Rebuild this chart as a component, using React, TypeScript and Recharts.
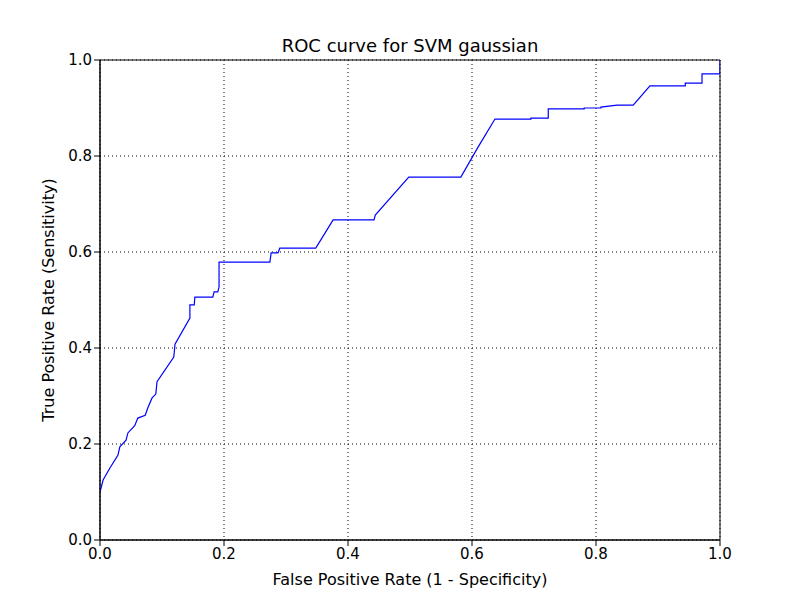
import { LineChart, Line, XAxis, YAxis, CartesianGrid, ReferenceArea, Label } from "recharts";

const fpr = [0, 0.005, 0.016, 0.029, 0.032, 0.042, 0.045, 0.056, 0.061, 0.073, 0.077, 0.084, 0.09, 0.092, 0.119, 0.121, 0.145, 0.145, 0.152, 0.153, 0.182, 0.184, 0.19, 0.192, 0.192, 0.274, 0.276, 0.287, 0.29, 0.348, 0.376, 0.442, 0.444, 0.498, 0.582, 0.61, 0.637, 0.695, 0.695, 0.723, 0.723, 0.781, 0.781, 0.808, 0.808, 0.834, 0.86, 0.887, 0.944, 0.944, 0.971, 0.971, 1.0, 1.0];
const tpr = [0.1, 0.125, 0.15, 0.177, 0.194, 0.208, 0.223, 0.238, 0.254, 0.26, 0.275, 0.296, 0.304, 0.33, 0.381, 0.408, 0.4625, 0.49, 0.49, 0.506, 0.506, 0.517, 0.517, 0.527, 0.579, 0.579, 0.598, 0.598, 0.608, 0.608, 0.667, 0.667, 0.677, 0.756, 0.756, 0.819, 0.877, 0.877, 0.879, 0.879, 0.898, 0.898, 0.9, 0.9, 0.902, 0.906, 0.906, 0.946, 0.946, 0.952, 0.952, 0.971, 0.971, 1.0];
const ticks = [0, 0.2, 0.4, 0.6, 0.8, 1.0];

const data = fpr.map((x, i) => ({ x, y: tpr[i] }));
const font = "'DejaVu Sans', sans-serif";
const tick = { fontSize: 15, fill: "#000", fontFamily: font };

export default function App() {
  return (
    <div style={{ position: "absolute", left: 0, top: 0, width: 800, height: 600, background: "#fff" }}>
      <div style={{ position: "absolute", top: 35, left: 100, width: 620, textAlign: "center", fontFamily: font, fontSize: 18 }}>
        ROC curve for SVM gaussian
      </div>
      <LineChart width={800} height={600} data={data} margin={{ top: 60, right: 80, bottom: 0, left: 0 }}>
        <CartesianGrid stroke="#000" strokeDasharray="1 3" />
        <XAxis type="number" dataKey="x" domain={[0, 1]} ticks={ticks} tickFormatter={(v) => v.toFixed(1)}
          tick={tick} stroke="#000" tickSize={6} height={60} allowDataOverflow>
          <Label value="False Positive Rate (1 - Specificity)" position="insideBottom" offset={15} style={{ fontSize: 16, fill: "#000", fontFamily: font }} />
        </XAxis>
        <YAxis type="number" domain={[0, 1]} ticks={ticks} tickFormatter={(v) => v.toFixed(1)}
          tick={tick} stroke="#000" tickSize={6} width={100} allowDataOverflow>
          <Label value="True Positive Rate (Sensitivity)" angle={-90} position="insideLeft" offset={48} style={{ fontSize: 16, fill: "#000", fontFamily: font, textAnchor: "middle" }} />
        </YAxis>
        <ReferenceArea x1={0} x2={1} y1={0} y2={1} fill="none" stroke="#000" strokeWidth={1} fillOpacity={0} />
        <Line type="linear" dataKey="y" stroke="#0000ff" strokeWidth={1.2} dot={false} isAnimationActive={false} />
      </LineChart>
    </div>
  );
}
